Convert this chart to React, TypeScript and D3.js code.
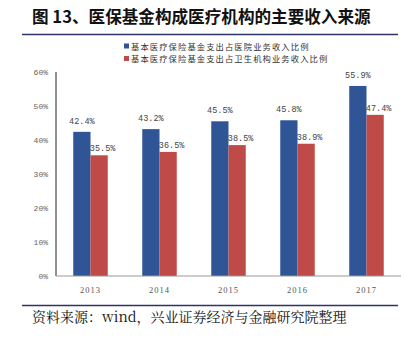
import React from "react";
import * as d3 from "d3";

const years = ["2013", "2014", "2015", "2016", "2017"];
const hospitalShare = [42.4, 43.2, 45.5, 45.8, 55.9];
const healthShare = [35.5, 36.5, 38.5, 38.9, 47.4];
const yTicks = [0, 10, 20, 30, 40, 50, 60];
const seriesNames = ["基本医疗保险基金支出占医院业务收入比例", "基本医疗保险基金支出占卫生机构业务收入比例"];
const colors = ["#2F5597", "#BE4B48"];

export default function App() {
  const W = 404, H = 337;
  const x0 = 56, x1 = 401, yTop = 72, yBot = 276;
  const x = d3.scaleBand().domain(years).range([x0, x1]).paddingInner(0.5).paddingOuter(0.25);
  const inner = d3.scaleBand().domain(["a", "b"]).range([0, x.bandwidth()]);
  const y = d3.scaleLinear().domain([0, 60]).range([yBot, yTop]);
  const series = [hospitalShare, healthShare];
  const cjk = "'Noto Sans CJK SC', sans-serif";
  const mono = "'Liberation Mono', 'DejaVu Sans Mono', monospace";
  return (
    <svg width={W} height={H} style={{ position: "absolute", left: 0, top: 0, background: "#fff" }}>
      <text x={32} y={23} fontFamily={cjk} fontWeight="bold" fontSize={16.6} fill="#111">图 13、医保基金构成医疗机构的主要收入来源</text>
      <line x1={22} x2={398} y1={34.5} y2={34.5} stroke="#2B3566" strokeWidth={1.6} />
      {seriesNames.map((n, i) => (
        <g key={n}>
          <rect x={124} y={43.5 + i * 12.5} width={5} height={5} fill={colors[i]} />
          <text x={131} y={49.5 + i * 12.5} fontFamily={cjk} fontSize={8.3} letterSpacing={1.1} fill="#333">{n}</text>
        </g>
      ))}
      {yTicks.map(t => (
        <text key={t} x={48} y={y(t) + 3} textAnchor="end" fontFamily={mono} fontSize={8} fill="#666">{t}%</text>
      ))}
      {years.map((yr, i) => (
        <g key={yr}>
          {series.map((s, j) => {
            const bx = (x(yr) as number) + (inner(j === 0 ? "a" : "b") as number);
            return (
              <rect key={j} x={bx} y={y(s[i])} width={inner.bandwidth()} height={yBot - y(s[i])} fill={colors[j]} />
            );
          })}
          {series.map((s, j) => {
            const bx = (x(yr) as number) + (inner(j === 0 ? "a" : "b") as number);
            return (
              <text key={j} x={bx + inner.bandwidth() / 2 + (j === 1 ? 3.5 : 0)} y={y(s[i]) - (j === 0 ? 8 : 4)} textAnchor="middle" fontFamily={mono} fontSize={8.5} fill="#444">{s[i].toFixed(1)}%</text>
            );
          })}
          <text x={(x(yr) as number) + x.bandwidth() / 2} y={yBot + 17} textAnchor="middle" fontFamily="'Liberation Serif', serif" fontSize={8.5} fill="#555" letterSpacing={1}>{yr}</text>
        </g>
      ))}
      <line x1={x0} x2={x0} y1={yTop} y2={yBot} stroke="#222" strokeWidth={1} />
      <line x1={x0} x2={x1} y1={yBot} y2={yBot} stroke="#999" strokeWidth={1} />
      <line x1={22} x2={398} y1={305.5} y2={305.5} stroke="#2B3566" strokeWidth={1.6} />
      <text x={32} y={322} fontFamily="'Noto Serif CJK SC', 'Noto Sans CJK SC', serif" fontSize={14} fill="#111">资料来源：wind，兴业证券经济与金融研究院整理</text>
    </svg>
  );
}
